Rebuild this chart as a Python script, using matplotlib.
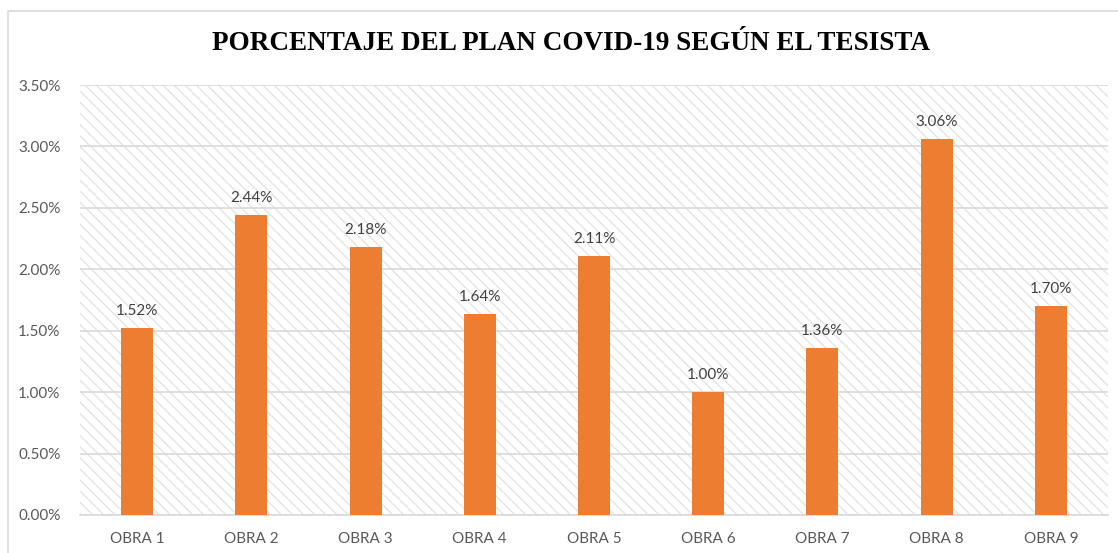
import matplotlib
matplotlib.use("Agg")
import matplotlib.pyplot as plt
from matplotlib.patches import Rectangle
from matplotlib.ticker import FuncFormatter, MultipleLocator

categories = ["OBRA 1", "OBRA 2", "OBRA 3", "OBRA 4", "OBRA 5", "OBRA 6", "OBRA 7", "OBRA 8", "OBRA 9"]
values = [1.52, 2.44, 2.18, 1.64, 2.11, 1.00, 1.36, 3.06, 1.70]
title = "PORCENTAJE DEL PLAN COVID-19 SEGÚN EL TESISTA"

plt.rcParams['hatch.linewidth'] = 1.0
fig = plt.figure(figsize=(11.18, 5.53), dpi=100)
fig.patch.set_facecolor("white")

# outer frame
fig.patches.append(Rectangle((8/1118, -0.05), 1.2, (553-11)/553 + 0.05, transform=fig.transFigure,
                             fill=False, edgecolor="#D9D9D9", linewidth=1.2))

ax = fig.add_axes([80/1118, (553-515)/553, (1108-80)/1118, (515-85)/553])
ax.patch.set_facecolor("white")
ax.patch.set_hatch("\\\\\\")
ax.patch.set_edgecolor("#E4E4E4")
ax.patch.set_linewidth(0)

x = range(len(categories))
ax.bar(x, values, width=0.28, color="#ED7D31", zorder=3)
for xi, v in zip(x, values):
    ax.text(xi, v + 0.08, f"{v:.2f}%", ha="center", va="bottom", fontsize=11,
            color="#404040", family="Lato", zorder=4)

ax.set_xlim(-0.5, len(categories) - 0.5)
ax.set_ylim(0, 3.5)
ax.yaxis.set_major_locator(MultipleLocator(0.5))
ax.yaxis.set_major_formatter(FuncFormatter(lambda v, p: f"{v:.2f}%"))
ax.set_xticks(list(x))
ax.set_xticklabels(categories)
ax.grid(axis="y", color="#D9D9D9", linewidth=1.2, zorder=1)
ax.set_axisbelow(True)
for s in ax.spines.values():
    s.set_visible(False)
ax.spines["bottom"].set_visible(True)
ax.spines["bottom"].set_color("#D9D9D9")
ax.spines["bottom"].set_linewidth(1.2)
ax.tick_params(axis="both", length=0, labelsize=11, labelcolor="#595959")
ax.tick_params(axis="x", pad=12)
ax.tick_params(axis="y", pad=14)
for lab in ax.get_xticklabels() + ax.get_yticklabels():
    lab.set_family("Lato")

fig.text(571/1118, 1 - 44/553, title, ha="center", va="center", fontsize=19.5,
         fontweight="bold", family="Liberation Serif", color="black")

fig.savefig("out.png", dpi=100)
